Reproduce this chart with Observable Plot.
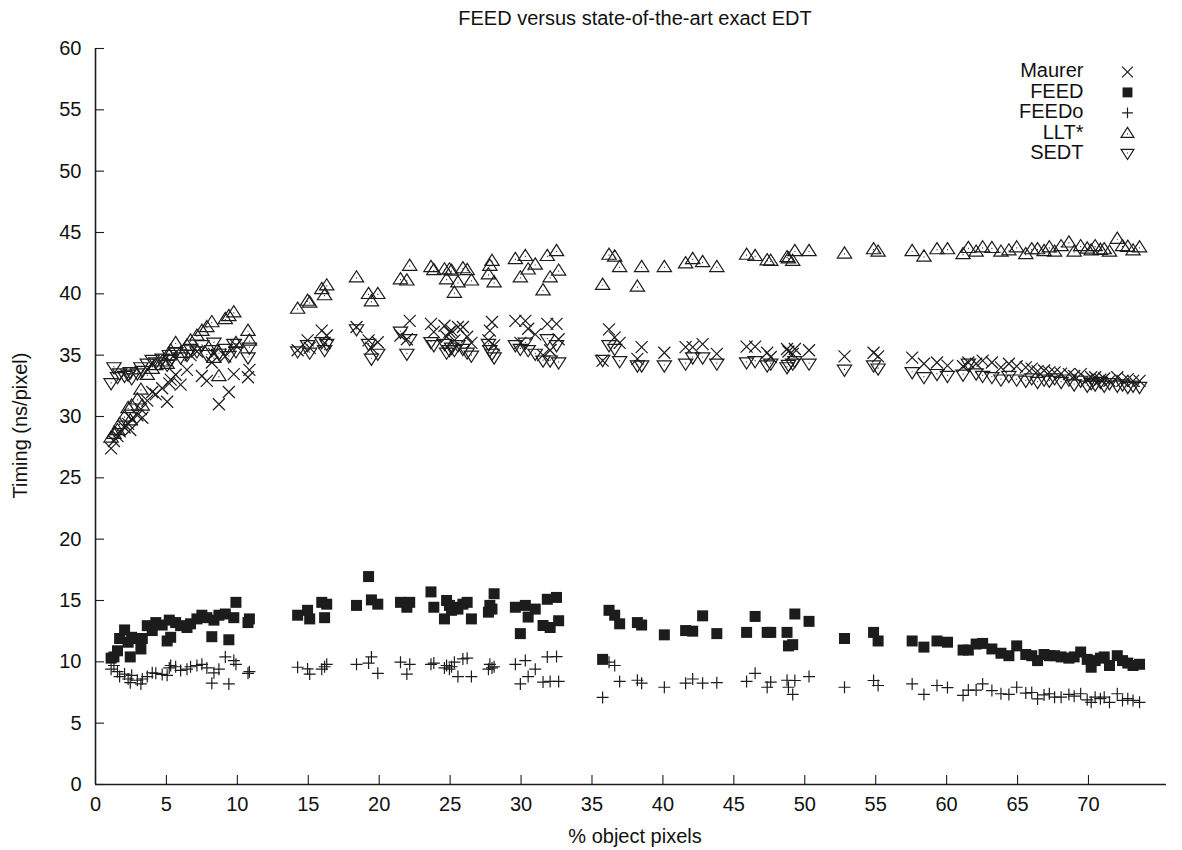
<!DOCTYPE html>
<html><head><meta charset="utf-8">
<script src="https://cdn.jsdelivr.net/npm/d3@7"></script>
<script src="https://cdn.jsdelivr.net/npm/@observablehq/plot@0.6"></script>
<style>body{margin:0;background:#fff}</style>
</head><body><div id="chart"></div>
<script>
const titleText = "FEED versus state-of-the-art exact EDT";
const xLabel = "% object pixels";
const yLabel = "Timing (ns/pixel)";
const xTicks = [0,5,10,15,20,25,30,35,40,45,50,55,60,65,70];
const yTicks = [0,5,10,15,20,25,30,35,40,45,50,55,60];
const legendLabels = ["Maurer","FEED","FEEDo","LLT*","SEDT"];

const pctObject = [
1.1,1.3,1.55,1.7,2.05,2.3,2.45,2.55,2.95,3.2,3.3,3.65,4.0,4.25,4.7,5.05,5.2,5.3,5.65,6.0,6.45,6.7,7.15,7.5,7.85,8.2,8.35,8.7,9.15,9.4,9.75,9.9,10.75,10.85,
14.25,14.95,15.1,15.95,16.15,16.3,
18.4,19.25,19.45,19.9,
21.5,21.95,22.15,
23.65,23.85,24.6,24.75,24.95,25.1,25.3,25.55,25.9,26.2,26.5,
27.7,27.8,27.95,28.1,
29.6,29.95,30.3,30.5,31.0,31.55,31.85,32.05,32.5,32.65,
35.75,36.2,36.6,36.95,38.2,38.5,
40.1,41.6,42.1,42.8,43.8,45.9,46.5,47.35,47.6,48.75,48.85,49.15,49.3,50.3,52.8,
54.85,55.17,57.57,58.4,59.32,60.06,61.16,61.53,62.08,62.54,63.19,63.83,64.39,64.94,65.58,66.0,66.41,66.87,67.24,67.61,68.07,68.62,68.99,69.45,69.91,70.19,70.47,70.84,71.11,71.48,72.03,72.4,72.77,73.14,73.6
];

const maurer = [
27.4,28.0,28.4,28.8,29.1,29.4,28.9,29.8,30.1,30.6,29.9,31.3,32.0,31.8,32.3,31.2,32.7,33.0,33.4,32.6,33.8,35.0,35.3,33.3,32.9,34.4,35.1,31.0,34.9,32.0,33.45,35.8,33.2,33.8,
35.4,36.2,35.6,37.0,36.0,36.6,
37.3,36.2,35.6,36.05,
36.6,36.3,37.8,
37.55,36.9,37.4,36.5,36.9,37.0,36.2,37.3,37.3,36.5,36.0,
36.2,37.0,37.7,35.8,
37.8,36.0,37.8,37.15,36.7,35.0,37.55,35.4,37.55,36.3,
34.55,37.1,36.45,36.0,34.7,35.65,
35.2,35.65,35.65,35.9,35.1,35.7,35.7,35.2,34.85,35.5,35.3,35.1,35.5,35.4,34.9,
35.2,34.9,34.8,34.3,34.4,34.15,34.1,34.4,34.3,34.55,34.4,34.0,34.3,34.1,34.0,33.9,33.7,33.75,33.6,33.6,33.5,33.45,33.3,33.45,33.0,33.2,33.2,33.0,33.1,32.9,33.2,32.9,33.05,32.9,32.9
];

const feed = [
10.3,10.4,10.9,11.9,12.6,11.6,10.4,12.0,11.9,11.05,11.9,12.95,12.55,13.2,13.0,11.7,13.4,12.0,13.2,12.95,12.8,13.1,13.5,13.8,13.6,12.05,13.4,13.8,13.9,11.8,13.6,14.85,13.2,13.5,
13.8,14.2,13.5,14.85,13.6,14.7,
14.6,16.95,15.05,14.7,
14.85,14.45,14.85,
15.7,14.45,13.5,15.0,14.6,14.2,14.45,14.3,14.7,14.85,13.5,
14.05,14.6,14.3,15.55,
14.45,12.3,14.6,13.65,14.3,12.96,15.1,12.8,15.25,13.35,
10.2,14.2,13.8,13.1,13.2,13.0,
12.2,12.55,12.5,13.75,12.3,12.4,13.7,12.4,12.4,12.4,11.3,11.4,13.9,13.3,11.9,
12.4,11.7,11.7,11.2,11.7,11.6,10.96,10.96,11.45,11.5,11.05,10.7,10.5,11.3,10.6,10.5,10.1,10.6,10.5,10.5,10.4,10.3,10.4,10.8,10.2,9.56,10.1,10.3,10.4,9.7,10.5,10.1,9.9,9.7,9.8
];

const feedo = [
9.4,9.7,9.2,8.8,9.0,8.6,8.3,8.9,8.5,8.2,8.6,8.8,9.1,9.06,8.97,8.9,9.5,9.7,9.6,9.3,9.4,9.6,9.7,9.8,9.5,8.26,9.1,9.4,10.4,8.2,10.1,9.8,9.06,9.2,
9.56,9.42,9.0,9.4,9.6,9.8,
9.8,9.9,10.4,9.06,
9.97,9.0,9.8,
9.8,9.9,9.5,9.7,9.4,9.6,9.97,8.8,10.24,10.3,8.8,
9.4,9.8,9.5,9.6,
9.8,8.2,10.1,8.8,9.4,8.35,10.4,8.4,10.43,8.4,
7.1,9.97,9.7,8.4,8.5,8.26,
7.93,8.26,8.6,8.26,8.3,8.4,9.06,7.93,8.35,8.5,7.93,7.34,8.48,8.8,7.93,
8.48,8.07,8.2,7.34,8.07,7.9,7.26,7.7,7.7,8.2,7.66,7.4,7.34,7.93,7.45,7.5,6.98,7.3,7.4,7.12,7.12,7.34,7.2,7.4,6.9,6.7,7.12,7.0,7.12,6.7,7.4,6.85,7.0,6.85,6.7
];

const llt = [
28.3,28.6,28.9,29.4,30.0,30.7,29.7,30.9,31.4,32.2,30.9,33.4,33.9,34.2,34.5,34.3,35.0,35.4,36.0,35.2,35.8,36.2,36.6,37.0,37.3,37.7,34.8,33.3,37.95,38.2,38.5,36.0,37.0,36.2,
38.8,39.45,39.3,40.4,39.9,40.7,
41.35,40.0,39.4,40.0,
41.2,41.1,42.3,
42.2,41.95,42.0,41.2,42.0,41.9,40.1,40.95,42.1,41.95,41.1,
41.6,42.3,42.7,40.95,
42.85,41.35,43.1,42.0,42.4,40.3,43.1,41.35,43.5,41.9,
40.75,43.2,43.05,42.2,40.6,42.2,
42.2,42.5,42.85,42.6,42.2,43.2,43.1,42.75,42.7,43.0,42.9,42.7,43.5,43.5,43.3,
43.65,43.45,43.5,43.05,43.65,43.65,43.25,43.75,43.45,43.8,43.75,43.45,43.55,43.8,43.25,43.65,43.65,43.5,43.8,43.45,43.9,44.2,43.45,43.9,43.7,43.55,43.9,43.6,43.65,43.45,44.5,43.9,43.85,43.55,43.8
];

const sedt = [
32.7,34.0,33.2,33.5,33.3,33.4,33.6,33.1,33.5,34.0,33.7,34.3,34.6,34.4,34.7,34.2,35.0,34.6,35.2,34.8,35.0,35.5,35.3,35.8,35.0,35.4,36.0,35.1,35.5,34.9,35.9,35.3,34.8,35.6,
35.3,35.8,35.2,36.05,35.4,35.9,
37.1,35.9,34.7,35.1,
36.9,35.1,36.3,
36.05,35.8,35.9,35.2,35.4,35.6,35.4,35.8,35.5,35.2,34.95,
35.9,35.4,35.1,34.8,
35.8,35.5,36.0,35.4,35.1,34.55,36.3,34.55,35.8,34.4,
34.6,35.8,35.5,34.5,34.15,34.15,
34.15,34.3,34.8,34.8,34.3,34.4,34.5,34.15,34.3,34.0,34.2,34.3,34.5,34.3,33.8,
34.15,33.9,33.6,33.2,33.45,33.3,33.4,34.3,33.5,33.3,33.2,33.0,33.3,33.0,32.9,33.1,32.8,33.0,32.9,33.1,32.8,33.0,32.6,32.9,32.5,32.7,32.6,32.8,32.5,32.7,32.5,32.6,32.4,32.5,32.4
];

// gnuplot-like point symbols
const symTimes = {draw(c, s){const h=Math.sqrt(s/Math.PI); c.moveTo(-h,-h); c.lineTo(h,h); c.moveTo(-h,h); c.lineTo(h,-h);}};
const symSquare = {draw(c, s){const h=Math.sqrt(s/Math.PI); c.rect(-h,-h,2*h,2*h);}};
const symPlus = {draw(c, s){const h=Math.sqrt(s/Math.PI); c.moveTo(-h,0); c.lineTo(h,0); c.moveTo(0,-h); c.lineTo(0,h);}};
const symUp = {draw(c, s){const h=Math.sqrt(s/Math.PI); c.moveTo(0,-h); c.lineTo(h*1.1,h*0.72); c.lineTo(-h*1.1,h*0.72); c.closePath(); c.moveTo(-0.45,0.6); c.lineTo(0.45,0.6);}};
const symDown = {draw(c, s){const h=Math.sqrt(s/Math.PI); c.moveTo(0,h); c.lineTo(h*1.1,-h*0.72); c.lineTo(-h*1.1,-h*0.72); c.closePath(); c.moveTo(-0.45,-0.6); c.lineTo(0.45,-0.6);}};

const ink = "#1c1c1c";
const series = [
  {name: legendLabels[0], values: maurer, symbol: symTimes, r: 6, filled: false},
  {name: legendLabels[1], values: feed, symbol: symSquare, r: 5.5, filled: true},
  {name: legendLabels[2], values: feedo, symbol: symPlus, r: 6, filled: false},
  {name: legendLabels[3], values: llt, symbol: symUp, r: 6.5, filled: false},
  {name: legendLabels[4], values: sedt, symbol: symDown, r: 6.5, filled: false}
];

function style(s) {
  return s.filled ? {fill: ink, stroke: "none"} : {fill: "none", stroke: ink, strokeWidth: 1.2};
}

const marks = [];
for (const s of series) {
  const rows = pctObject.map((x, i) => ({x, y: s.values[i]}));
  marks.push(Plot.dot(rows, {x: "x", y: "y", symbol: s.symbol, r: s.r, ...style(s)}));
}
// legend
series.forEach((s, i) => {
  marks.push(Plot.text([s.name], {x: null, y: null, text: d => d, frameAnchor: "top-right", textAnchor: "end", lineAnchor: "middle", dx: -83, dy: 22.5 + i * 20.4, fontSize: 20, fill: "#111"}));
  marks.push(Plot.dot([s.name], {x: null, y: null, frameAnchor: "top-right", dx: -39, dy: 23.5 + i * 20.4, symbol: s.symbol, r: s.r * 0.9, ...style(s)}));
});

const chart = Plot.plot({
  width: 1182,
  height: 850,
  marginLeft: 95,
  marginRight: 16,
  marginTop: 48,
  marginBottom: 66,
  style: {fontFamily: "'Liberation Sans', Arial, Helvetica, sans-serif", background: "#fff", color: "#111"},
  x: {domain: [0, 75.5], label: null},
  y: {domain: [0, 60], label: null},
  marks: [
    Plot.axisX({ticks: xTicks, tickSize: -9, tickFormat: () => "", strokeWidth: 1.1, stroke: ink}),
    Plot.axisX({ticks: xTicks, tickSize: 0, tickPadding: 12, fontSize: 20, label: null, fill: "#111"}),
    Plot.axisY({ticks: yTicks, tickSize: -9, tickFormat: () => "", strokeWidth: 1.1, stroke: ink}),
    Plot.axisY({ticks: yTicks, tickSize: 0, tickPadding: 14, fontSize: 20, label: null, fill: "#111"}),
    Plot.ruleX([0], {stroke: ink, strokeWidth: 1.6}),
    Plot.ruleY([0], {stroke: ink, strokeWidth: 1.6}),
    Plot.text([titleText], {x: null, y: null, text: d => d, frameAnchor: "top", lineAnchor: "middle", dx: 4, dy: -30, fontSize: 20, fill: "#111"}),
    Plot.text([yLabel], {x: null, y: null, text: d => d, frameAnchor: "left", textAnchor: "middle", lineAnchor: "middle", rotate: -90, dx: -75, dy: 9, fontSize: 20, fill: "#111"}),
    Plot.text([xLabel], {x: null, y: null, text: d => d, frameAnchor: "bottom", lineAnchor: "middle", dx: 4, dy: 52, fontSize: 20, fill: "#111"}),
    ...marks
  ]
});
document.getElementById("chart").appendChild(chart);
</script>
</body></html>
